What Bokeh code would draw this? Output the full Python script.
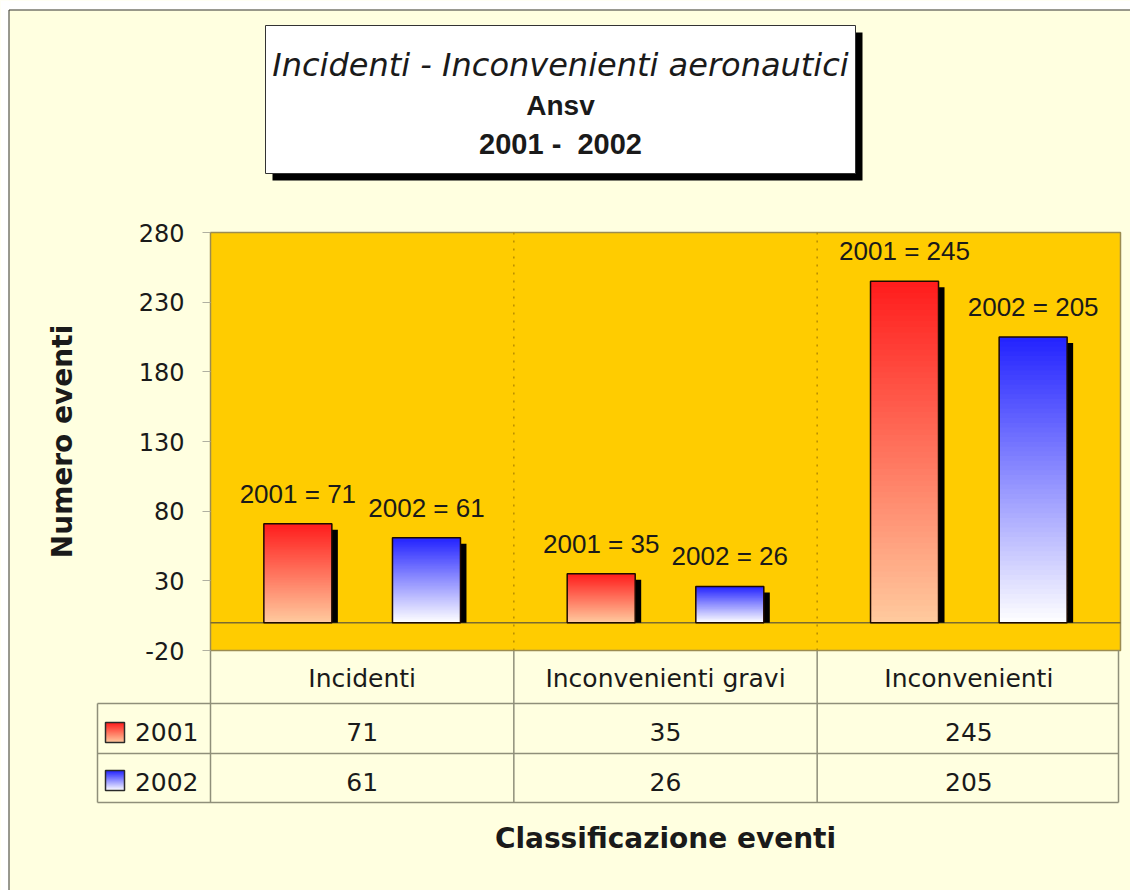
import numpy as np
from bokeh.plotting import figure
from bokeh.models import FixedTicker, Range1d
from bokeh.core.properties import value
from bokeh.embed import file_html
from bokeh.resources import INLINE

# ---------------- data ----------------
categories = ["Incidenti", "Inconvenienti gravi", "Inconvenienti"]
series_names = ["2001", "2002"]
values_2001 = [71, 35, 245]
values_2002 = [61, 26, 205]
y_ticks = [-20, 30, 80, 130, 180, 230, 280]
title_lines = ["Incidenti - Inconvenienti aeronautici", "Ansv", "2001 -\u00a0 2002"]
x_title = "Classificazione eventi"
y_title = "Numero eventi"

# ---------------- style / layout constants ----------------
BG = "#FFFFE0"
PLOT_BG = "#FFCC00"
TXT = "#1a1a1a"
GRID = "#8f8f7a"
RED_TOP, RED_BOT = (255, 28, 28), (255, 202, 158)
BLUE_TOP, BLUE_BOT = (34, 34, 255), (255, 255, 255)

W, H = 1130, 890
PX0, PX1 = 210, 1120       # canvas px of the plot area (x = 0 .. ncat)
PY_TOP, PY_BOT = 232, 650  # canvas px of y = 280 / -20
Y0, Y1 = min(y_ticks), max(y_ticks)
ky = (PY_BOT - PY_TOP) / (Y1 - Y0)       # px per data unit (y)
ncat = len(categories)
kx = (PX1 - PX0) / ncat                  # px per category


def dy(py):
    return Y1 - (py - PY_TOP) / ky


def dx(px):
    return (px - PX0) / kx


p = figure(width=W, height=H, x_range=Range1d(dx(0), dx(W)), y_range=Range1d(dy(H), dy(0)),
           output_backend="svg", toolbar_location=None, title=None,
           min_border_left=0, min_border_right=0, min_border_top=0, min_border_bottom=0,
           background_fill_color=BG, border_fill_color=BG, outline_line_color=None)
p.xgrid.visible = False
p.ygrid.visible = False
p.xaxis.visible = False

# y axis, pinned at the left edge of the plot area
p.yaxis.fixed_location = 0
p.yaxis.ticker = FixedTicker(ticks=y_ticks)
p.yaxis.major_label_overrides = {t: str(t) for t in y_ticks if t < 0}
p.yaxis.axis_line_color = None
p.yaxis.major_tick_out = 8
p.yaxis.major_tick_in = 0
p.yaxis.major_tick_line_color = "#b0b0a0"
p.yaxis.minor_tick_line_color = None
p.yaxis.major_label_standoff = 18
p.yaxis.major_label_text_font = "DejaVu Sans"
p.yaxis.major_label_text_font_size = "24px"
p.yaxis.major_label_text_color = TXT

# white page margin and outer chart border
p.quad(left=dx(0), right=dx(8), bottom=dy(H), top=dy(0), fill_color="white", line_color=None)
p.quad(left=dx(0), right=dx(W), bottom=dy(9), top=dy(0), fill_color="white", line_color=None)
p.segment(x0=[dx(8.5), dx(8.5)], y0=[dy(9.5), dy(9.5)], x1=[dx(8.5), dx(W)], y1=[dy(H), dy(9.5)],
          line_color="#333333", line_width=1)

# plot area
p.quad(left=0, right=ncat, bottom=Y0, top=Y1, fill_color=PLOT_BG,
       line_color="#9c8c50", line_width=1.5)
sep = list(range(1, ncat))
p.segment(x0=sep, y0=Y0, x1=sep, y1=Y1, line_color="#b88c00",
          line_width=1.5, line_dash="2 6")
p.segment(x0=0, y0=0, x1=ncat, y1=0, line_color="#7a6a30", line_width=1.5)

# bars
BAR_W = 68 / kx
OFFS = [-0.212, 0.212]
NSL = 60
SHX = 6 / kx
SHY = 6 / ky


def mix(c0, c1, f):
    return "#%02x%02x%02x" % tuple(int(round(a + (b - a) * f)) for a, b in zip(c0, c1))


def gradient(lefts, rights, bottoms, tops, top_rgb, bot_rgb, n, overlap):
    L, R, B, T, C = [], [], [], [], []
    for l, r, b0, t0 in zip(lefts, rights, bottoms, tops):
        h = t0 - b0
        for j in range(n):
            L.append(l)
            R.append(r)
            B.append(b0 + h * j / n)
            T.append(min(t0, b0 + h * (j + 1) / n + overlap))
            C.append(mix(bot_rgb, top_rgb, (j + 0.5) / n))
    p.quad(left=L, right=R, bottom=B, top=T, fill_color=C, line_color=None)


def draw_bars(vals, off, top_rgb, bot_rgb, name):
    xc = [i + 0.5 + off for i in range(len(vals))]
    lefts = [x - BAR_W / 2 for x in xc]
    rights = [x + BAR_W / 2 for x in xc]
    # shadow
    p.quad(left=[l + SHX for l in lefts], right=[r + SHX for r in rights],
           bottom=0, top=[v - SHY for v in vals], fill_color="black", line_color=None)
    gradient(lefts, rights, [0] * len(vals), vals, top_rgb, bot_rgb, NSL, 2.5 / ky)
    p.quad(left=lefts, right=rights, bottom=0, top=vals, fill_color=None,
           line_color="#1e0a00", line_width=1.5)
    # data labels
    p.text(x=xc, y=[v + 30 / ky for v in vals],
           text=[f"{name} = {v}" for v in vals],
           text_font=value("Liberation Sans"), text_font_size="26px",
           text_color=TXT, text_align="center", text_baseline="middle")


draw_bars(values_2001, OFFS[0], RED_TOP, RED_BOT, series_names[0])
draw_bars(values_2002, OFFS[1], BLUE_TOP, BLUE_BOT, series_names[1])

# title box
BX0, BX1, BY0, BY1 = 265, 855, 25, 173
p.quad(left=dx(BX0 + 7), right=dx(BX1 + 7), top=dy(BY0 + 7), bottom=dy(BY1 + 7),
       fill_color="black", line_color=None)
p.quad(left=dx(BX0), right=dx(BX1), top=dy(BY0), bottom=dy(BY1),
       fill_color="white", line_color="#333333", line_width=1)
tcx = dx((BX0 + BX1) / 2)
p.text(x=[tcx], y=[dy(64)], text=[title_lines[0]], text_font=value("DejaVu Sans"),
       text_font_size="32px", text_font_style="italic", text_color=TXT,
       text_align="center", text_baseline="middle")
p.text(x=[tcx], y=[dy(105)], text=[title_lines[1]], text_font=value("Liberation Sans"),
       text_font_size="28px", text_font_style="bold", text_color=TXT,
       text_align="center", text_baseline="middle")
p.text(x=[tcx], y=[dy(143)], text=[title_lines[2]], text_font=value("Liberation Sans"),
       text_font_size="29px", text_font_style="bold", text_color=TXT,
       text_align="center", text_baseline="middle")

# data table
ROW_Y = [650, 703, 753, 802]          # canvas px of table row lines
TX0, TX1 = dx(97), dx(1118)
cx = [i + 0.5 for i in range(ncat)]
vlines = list(range(ncat)) + [TX1]
p.segment(x0=vlines, x1=vlines, y0=dy(ROW_Y[0]), y1=dy(ROW_Y[3]),
          line_color=GRID, line_width=1.5)
p.segment(x0=TX0, x1=TX0, y0=dy(ROW_Y[1]), y1=dy(ROW_Y[3]), line_color=GRID, line_width=1.5)
p.segment(x0=TX0, x1=TX1, y0=[dy(y) for y in ROW_Y[1:]], y1=[dy(y) for y in ROW_Y[1:]],
          line_color=GRID, line_width=1.5)
p.text(x=cx, y=dy(678), text=categories, text_font=value("DejaVu Sans"),
       text_font_size="25px", text_color=TXT, text_align="center", text_baseline="middle")
ROW_TXT = [731, 781]
for vals, ry in zip([values_2001, values_2002], ROW_TXT):
    p.text(x=cx, y=dy(ry), text=[str(v) for v in vals], text_font=value("DejaVu Sans"),
           text_font_size="25px", text_color=TXT, text_align="center",
           text_baseline="middle")

# legend keys + series names in the first column
KEY_TOP = [722, 770]
for kt, top_rgb, bot_rgb in zip(KEY_TOP, [RED_TOP, BLUE_TOP], [RED_BOT, BLUE_BOT]):
    gradient([dx(105)], [dx(124)], [dy(kt + 20)], [dy(kt)], top_rgb, bot_rgb, 10, 1.0 / ky)
    p.quad(left=dx(105), right=dx(124), top=dy(kt), bottom=dy(kt + 20), fill_color=None,
           line_color="#2a2a2a", line_width=1.5)
p.text(x=dx(198), y=[dy(r) for r in ROW_TXT], text=series_names, text_font=value("DejaVu Sans"),
       text_font_size="25px", text_color=TXT, text_align="right", text_baseline="middle")

# axis titles
p.text(x=[dx(62)], y=[dy(441)], text=[y_title], angle=np.pi / 2, text_font=value("DejaVu Sans"),
       text_font_size="28px", text_font_style="bold", text_color=TXT,
       text_align="center", text_baseline="middle")
p.text(x=[ncat / 2], y=[dy(838)], text=[x_title], text_font=value("DejaVu Sans"),
       text_font_size="28px", text_font_style="bold", text_color=TXT,
       text_align="center", text_baseline="middle")

open("out.html", "w").write(file_html(p, INLINE))
